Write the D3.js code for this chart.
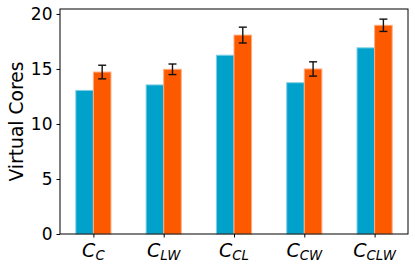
<!DOCTYPE html>
<html>
<head>
<meta charset="utf-8">
<script src="https://cdn.jsdelivr.net/npm/d3@7"></script>
<style>
  body { margin: 0; background: #fff; }
  svg { display: block; font-family: "DejaVu Sans", sans-serif; }
</style>
</head>
<body>
<div id="chart"></div>
<script>
// Data
const categories = ["C", "LW", "CL", "CW", "CLW"]; // subscripts of C
const baseValues = [13.05, 13.55, 16.25, 13.75, 16.92];
const mainValues = [14.72, 14.97, 18.08, 15.0, 18.97];
const mainErrors = [0.62, 0.48, 0.72, 0.65, 0.56];
const yTicks = [0, 5, 10, 15, 20];

const width = 415, height = 268;
const plot = { left: 60, right: 408, top: 9, bottom: 234 };
const barW = 0.25;

const svg = d3.select("#chart").append("svg")
    .attr("width", width)
    .attr("height", height);

const x = d3.scaleLinear()
    .domain([-0.475, categories.length - 1 + 0.475])
    .range([plot.left, plot.right]);

const y = d3.scaleLinear()
    .domain([0, 20.45])
    .range([plot.bottom, plot.top]);

const bw = x(barW) - x(0);

// blue bars
svg.append("g").selectAll("rect")
    .data(baseValues)
    .join("rect")
    .attr("x", (d, i) => x(i - barW))
    .attr("y", d => y(d))
    .attr("width", bw)
    .attr("height", d => y(0) - y(d))
    .attr("fill", "#00a2cb")
    .attr("stroke", "#7fd0e5")
    .attr("stroke-width", 1);

// orange bars
svg.append("g").selectAll("rect")
    .data(mainValues)
    .join("rect")
    .attr("x", (d, i) => x(i))
    .attr("y", d => y(d))
    .attr("width", bw)
    .attr("height", d => y(0) - y(d))
    .attr("fill", "#fd5a00")
    .attr("stroke", "#feac80")
    .attr("stroke-width", 1);

// error bars
const err = svg.append("g")
    .attr("stroke", "#111")
    .attr("stroke-width", 1.4);
mainValues.forEach((v, i) => {
    const cx = x(i + barW / 2);
    const e = mainErrors[i];
    err.append("line")
        .attr("x1", cx).attr("x2", cx)
        .attr("y1", y(v - e)).attr("y2", y(v + e));
    [v - e, v + e].forEach(t => {
        err.append("line")
            .attr("x1", cx - 4).attr("x2", cx + 4)
            .attr("y1", y(t)).attr("y2", y(t));
    });
});

// frame
svg.append("rect")
    .attr("x", plot.left)
    .attr("y", plot.top)
    .attr("width", plot.right - plot.left)
    .attr("height", plot.bottom - plot.top)
    .attr("fill", "none")
    .attr("stroke", "#000")
    .attr("stroke-width", 1);

// y axis
const yAxis = d3.axisLeft(y)
    .tickValues(yTicks)
    .tickSize(3.5)
    .tickPadding(4);
const gy = svg.append("g")
    .attr("transform", `translate(${plot.left},0)`)
    .call(yAxis);
gy.select(".domain").remove();
gy.selectAll("text")
    .attr("font-size", 17)
    .attr("font-family", "DejaVu Sans")
    .attr("fill", "#000");

// x axis
const xAxis = d3.axisBottom(x)
    .tickValues(d3.range(categories.length))
    .tickSize(3.5)
    .tickFormat("");
const gx = svg.append("g")
    .attr("transform", `translate(0,${plot.bottom})`)
    .call(xAxis);
gx.select(".domain").remove();

// x tick labels: C with subscript
const labels = svg.append("g")
    .attr("font-family", "DejaVu Sans")
    .attr("font-style", "italic")
    .attr("fill", "#000");
categories.forEach((c, i) => {
    const t = labels.append("text")
        .attr("x", x(i))
        .attr("y", 257)
        .attr("text-anchor", "middle")
        .attr("font-size", 19);
    t.append("tspan").text("C");
    t.append("tspan")
        .attr("font-size", 13.3)
        .attr("dy", 3)
        .text(c);
});

// y label
svg.append("text")
    .attr("transform", `translate(23,${(plot.top + plot.bottom) / 2 + 0}) rotate(-90)`)
    .attr("text-anchor", "middle")
    .attr("font-size", 18.7)
    .attr("fill", "#000")
    .text("Virtual Cores");
</script>
</body>
</html>
